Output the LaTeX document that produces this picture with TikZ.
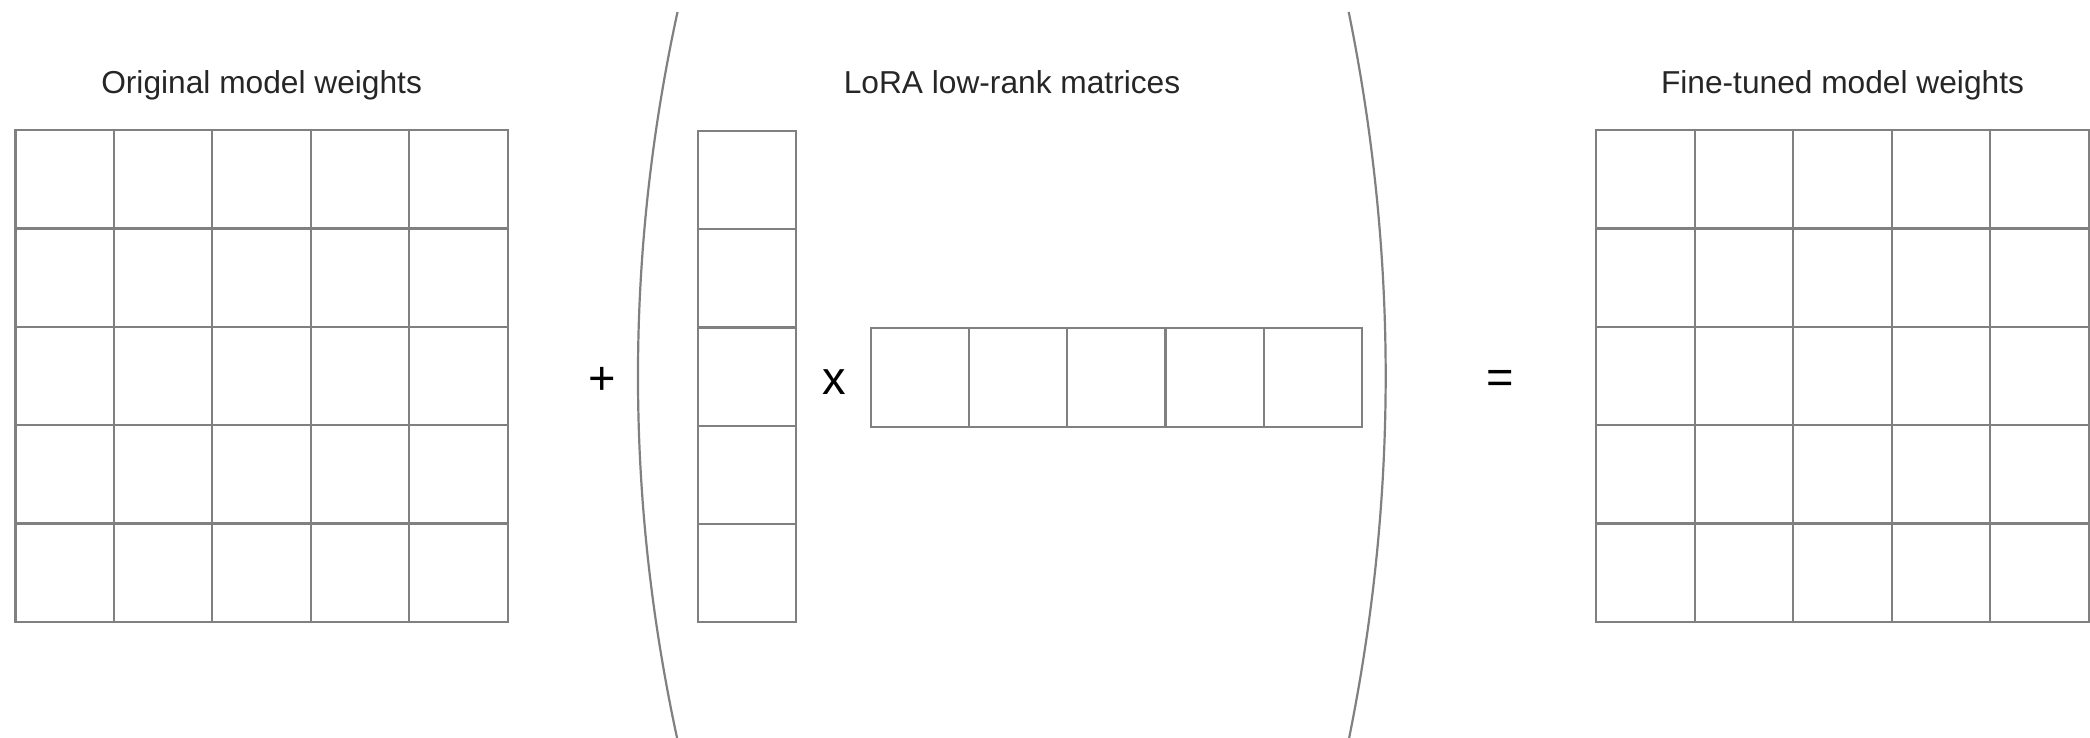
\documentclass[tikz,border=0pt]{standalone}
\usepackage{fontspec}
\setmainfont{Liberation Sans}
\definecolor{gridgray}{RGB}{128,128,128}
\definecolor{labelgray}{RGB}{38,38,38}
\begin{document}
\begin{tikzpicture}[x=1pt,y=-1pt,
  cell/.style={draw=gridgray, line width=2.2pt, minimum width=98.4pt, minimum height=98.4pt, inner sep=0pt, outer sep=0pt},
  lbl/.style={font=\fontsize{31.7}{38}\selectfont, text=labelgray, anchor=base, inner sep=0pt},
  op/.style={font=\fontsize{47}{56}\selectfont, text=black, anchor=base, inner sep=0pt},
  bracket/.style={draw=gridgray, line width=2.2pt}]
\useasboundingbox (0,0) rectangle (2090,737);
\clip (0,0) rectangle (2090,737);
% original and fine-tuned weight matrices
\foreach \i in {0,...,4}{\foreach \j in {0,...,4}{
  \node[cell] (W-\i-\j) at ({15.5+49.2+98.44*\i},{130+49.2+98.34*\j}) {};
  \node[cell] (F-\i-\j) at ({1596.3+49.2+98.48*\i},{130+49.2+98.34*\j}) {};
}}
% LoRA matrices
\foreach \j in {0,...,4}{\node[cell, minimum width=98pt, minimum height=98.2pt] (A-\j) at (746.7,{131+49.1+98.2*\j}) {};}
\foreach \i in {0,...,4}{\node[cell, minimum width=98.3pt, minimum height=99pt] (B-\i) at ({870.7+49.13+98.26*\i},377.2) {};}
% brackets
\coordinate (lbt) at (677.5,12);
\coordinate (lbb) at (677.5,740);
\coordinate (rbt) at (1348.7,12);
\coordinate (rbb) at (1348.7,740);
\draw[bracket] (lbt) .. controls (624.8,254.7) and (624.8,497.3) .. (lbb);
\draw[bracket] (rbt) .. controls (1398.0,254.7) and (1398.0,497.3) .. (rbb);
% labels
\node[lbl] (t1) at (261.6,93.5) {Original model weights};
\node[lbl] (t2) at (1012,93.5) {LoRA low-rank matrices};
\node[lbl] (t3) at (1842.5,93.5) {Fine-tuned model weights};
% operators
\node[op] (plus) at (602,394) {+};
\node[op] (times) at (834,394.7) {x};
\node[op] (eq) at (1500.7,393.4) {=};
\end{tikzpicture}
\end{document}
